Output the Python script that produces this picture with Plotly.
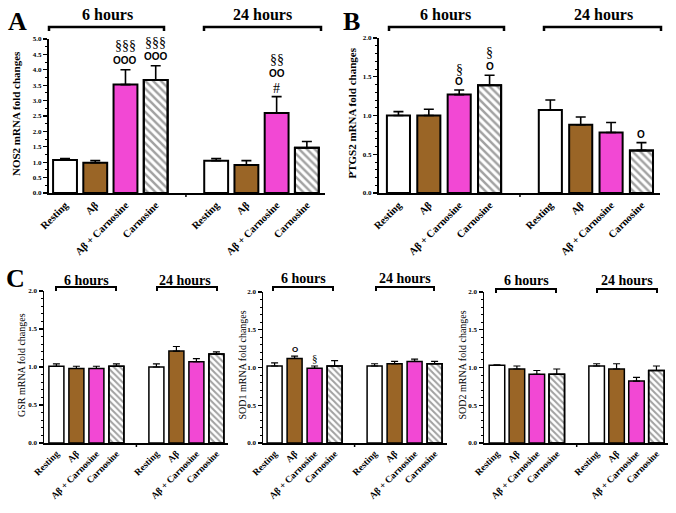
import plotly.graph_objects as go

# ---------------- data ----------------
categories = ["Resting", "Aβ", "Aβ + Carnosine", "Carnosine"]
time_points = ["6 hours", "24 hours"]

nos2_mean = [1.07, 0.98, 3.52, 3.67, 1.05, 0.91, 2.60, 1.47]
nos2_sem = [0.05, 0.07, 0.48, 0.46, 0.07, 0.14, 0.53, 0.20]
ptgs2_mean = [1.00, 1.00, 1.27, 1.39, 1.07, 0.88, 0.78, 0.55]
ptgs2_sem = [0.05, 0.08, 0.06, 0.13, 0.13, 0.10, 0.13, 0.10]
gsr_mean = [1.01, 0.98, 0.98, 1.01, 1.00, 1.21, 1.07, 1.17]
gsr_sem = [0.03, 0.03, 0.03, 0.03, 0.04, 0.06, 0.04, 0.03]
sod1_mean = [1.02, 1.12, 0.99, 1.02, 1.02, 1.05, 1.08, 1.05]
sod1_sem = [0.04, 0.03, 0.03, 0.07, 0.03, 0.03, 0.03, 0.03]
sod2_mean = [1.03, 0.98, 0.91, 0.91, 1.02, 0.98, 0.82, 0.96]
sod2_sem = [0.005, 0.04, 0.05, 0.07, 0.03, 0.07, 0.05, 0.06]

# significance marks: (panel, bar index, text, pixel shift above error bar)
sig_marks = [
    ("A", 2, "OOO", 9), ("A", 2, "§§§", 24),
    ("A", 3, "OOO", 9), ("A", 3, "§§§", 23),
    ("A", 6, "#", 8), ("A", 6, "OO", 23), ("A", 6, "§§", 37),
    ("B", 2, "O", 8), ("B", 2, "§", 20),
    ("B", 3, "O", 9), ("B", 3, "§", 23),
    ("B", 7, "O", 8),
    ("SOD1", 1, "O", 7), ("SOD1", 2, "§", 8),
]

# ---------------- styling ----------------
W, H = 676, 513
SERIF = "Liberation Serif"
BROWN = "#9A6526"
MAGENTA = "#F248D4"
fill_colors = ["white", BROWN, MAGENTA, "white"]
hatched = [False, False, False, True]


def px(x):
    return x / W


def py(y):
    return 1 - y / H


x_pos = [t * 5 + c for t in range(len(time_points)) for c in range(len(categories))]
x_text = categories * len(time_points)
cat_idx = [c for t in range(len(time_points)) for c in range(len(categories))]

panels = [
    dict(key="A", letter="A", mean=nos2_mean, sem=nos2_sem, ytitle="NOS2 mRNA fold changes",
         xdom=(49, 325), ydom=(193, 39), yr=5.0, minor=0.25, xr=(-0.53, 8.6), bw=0.79,
         big=True, ytx=16, letter_xy=(17, 21), hours_y=14, br_y=27,
         brackets=[(49, 164), (204, 321)], hours_x=[107, 262]),
    dict(key="B", letter="B", mean=ptgs2_mean, sem=ptgs2_sem, ytitle="PTGS2 mRNA fold changes",
         xdom=(379, 660), ydom=(193, 38), yr=2.0, minor=0.1, xr=(-0.64, 8.61), bw=0.76,
         big=True, ytx=352, letter_xy=(351, 21), hours_y=14, br_y=27,
         brackets=[(389, 504), (544, 661)], hours_x=[445, 603]),
    dict(key="GSR", letter="C", mean=gsr_mean, sem=gsr_sem, ytitle="GSR mRNA fold changes",
         xdom=(44, 228), ydom=(443, 291), yr=2.0, minor=0.1, xr=(-0.62, 8.58), bw=0.75,
         big=False, ytx=21, letter_xy=(15, 278), hours_y=280, br_y=287,
         brackets=[(56, 116), (157, 217)], hours_x=[86, 185]),
    dict(key="SOD1", letter=None, mean=sod1_mean, sem=sod1_sem, ytitle="SOD1 mRNA fold changes",
         xdom=(263, 447), ydom=(443, 292), yr=2.0, minor=0.1, xr=(-0.58, 8.62), bw=0.75,
         big=False, ytx=242, letter_xy=None, hours_y=278, br_y=287,
         brackets=[(273, 333), (376, 434)], hours_x=[303, 405]),
    dict(key="SOD2", letter=None, mean=sod2_mean, sem=sod2_sem, ytitle="SOD2 mRNA fold changes",
         xdom=(484, 668), ydom=(443, 292), yr=2.0, minor=0.1, xr=(-0.65, 8.58), bw=0.78,
         big=False, ytx=462, letter_xy=None, hours_y=280, br_y=289,
         brackets=[(496, 556), (597, 657)], hours_x=[526, 627]),
]

fig = go.Figure()
annotations = []
shapes = []
layout = {}

for i, p in enumerate(panels):
    n = i + 1
    xa = "x" if n == 1 else f"x{n}"
    ya = "y" if n == 1 else f"y{n}"
    xkey = "xaxis" if n == 1 else f"xaxis{n}"
    ykey = "yaxis" if n == 1 else f"yaxis{n}"
    big = p["big"]
    lw = 2 if big else 1.5
    ebar = dict(type="data", symmetric=False, color="black",
                thickness=1.6 if big else 1.2, width=5 if big else 3.5)

    for want_hatch in (False, True):
        sel = [k for k in range(len(x_pos)) if hatched[cat_idx[k]] == want_hatch]
        marker = dict(color=[fill_colors[cat_idx[k]] for k in sel],
                      line=dict(color="black", width=lw))
        if want_hatch:
            marker["pattern"] = dict(shape="\\", fgcolor="black", bgcolor="white",
                                     size=5.5 if big else 4.5, solidity=0.45)
        fig.add_trace(go.Bar(
            x=[x_pos[k] for k in sel], y=[p["mean"][k] for k in sel],
            xaxis=xa, yaxis=ya, width=p["bw"], marker=marker,
            error_y=dict(ebar, array=[p["sem"][k] for k in sel], arrayminus=[0] * len(sel)),
            showlegend=False, hoverinfo="skip",
        ))
        if want_hatch:
            # crisp black outline over the hatched bars
            fig.add_trace(go.Bar(
                x=[x_pos[k] for k in sel], y=[p["mean"][k] for k in sel],
                xaxis=xa, yaxis=ya, width=p["bw"],
                marker=dict(color="rgba(0,0,0,0)", line=dict(color="black", width=lw)),
                showlegend=False, hoverinfo="skip",
            ))

    layout[xkey] = dict(
        domain=[px(p["xdom"][0]), px(p["xdom"][1])], range=list(p["xr"]),
        anchor=ya, showline=True, linecolor="black", linewidth=lw,
        showgrid=False, zeroline=False, ticks="", automargin=False, fixedrange=True,
        tickvals=x_pos, ticktext=x_text, tickangle=-45,
        tickfont=dict(family=SERIF, size=10.5 if big else 9.5, color="black", weight="bold"),
    )
    layout[ykey] = dict(
        domain=[py(p["ydom"][0]), py(p["ydom"][1])], range=[0, p["yr"]],
        anchor=xa, showline=True, linecolor="black", linewidth=lw,
        showgrid=False, zeroline=False, ticks="outside", ticklen=4, automargin=False,
        fixedrange=True,
        tickwidth=1.3, tickcolor="black", dtick=0.5, tick0=0, tickformat=".1f",
        tickfont=dict(family=SERIF, size=7, color="black", weight="bold"),
        minor=dict(dtick=p["minor"], tick0=0, ticks="outside", ticklen=2,
                   tickwidth=1, tickcolor="black"),
    )

    # gap tick on the x axis
    shapes.append(dict(type="line", xref=xa, yref="paper", x0=4, x1=4,
                       y0=py(p["ydom"][0]), y1=py(p["ydom"][0] + 4),
                       line=dict(color="black", width=1.5)))

    # y title
    annotations.append(dict(
        text=p["ytitle"], xref="paper", yref="paper", textangle=-90,
        x=px(p["ytx"]), y=py((p["ydom"][0] + p["ydom"][1]) / 2 - 2),
        xanchor="center", yanchor="middle", showarrow=False,
        font=dict(family=SERIF, size=11 if big else 10, color="black",
                  weight="bold" if big else "normal"),
    ))

    # panel letter
    if p["letter"]:
        annotations.append(dict(
            text=p["letter"], xref="paper", yref="paper",
            x=px(p["letter_xy"][0]), y=py(p["letter_xy"][1]),
            xanchor="center", yanchor="middle", showarrow=False,
            font=dict(family=SERIF, size=26, color="black", weight="bold"),
        ))

    # hours labels and brackets
    for t, label in enumerate(time_points):
        x0, x1 = p["brackets"][t]
        annotations.append(dict(
            text=label, xref="paper", yref="paper",
            x=px(p["hours_x"][t]), y=py(p["hours_y"]),
            xanchor="center", yanchor="middle", showarrow=False,
            font=dict(family=SERIF, size=16 if big else 14, color="black", weight="bold"),
        ))
        by = p["br_y"]
        shapes.append(dict(
            type="path", xref="paper", yref="paper",
            path=(f"M {px(x0)} {py(by + 4)} L {px(x0)} {py(by)} "
                  f"L {px(x1)} {py(by)} L {px(x1)} {py(by + 4)}"),
            line=dict(color="black", width=2.5 if big else 2),
        ))

    # significance marks
    for key, idx, txt, shift in sig_marks:
        if key != p["key"]:
            continue
        if txt.startswith("O"):
            f = dict(family="Liberation Sans", size=10 if big else 8, color="black", weight="bold")
        elif txt.startswith("#"):
            f = dict(family=SERIF, size=14, color="black")
        else:
            f = dict(family=SERIF, size=14 if big else 11, color="black")
        annotations.append(dict(
            text=txt, xref=xa, yref=ya, x=x_pos[idx],
            y=p["mean"][idx] + p["sem"][idx], yshift=shift,
            xanchor="center", yanchor="middle", showarrow=False, font=f,
        ))

fig.update_layout(
    width=W, height=H, margin=dict(l=0, r=0, t=0, b=0, autoexpand=False),
    paper_bgcolor="white", plot_bgcolor="white", barmode="overlay",
    annotations=annotations, shapes=shapes, showlegend=False,
    **layout,
)

fig.write_html(
    "out.html",
    config={"displayModeBar": False, "staticPlot": True},
    post_script="document.body.style.margin='0';document.body.style.overflow='hidden';",
)
